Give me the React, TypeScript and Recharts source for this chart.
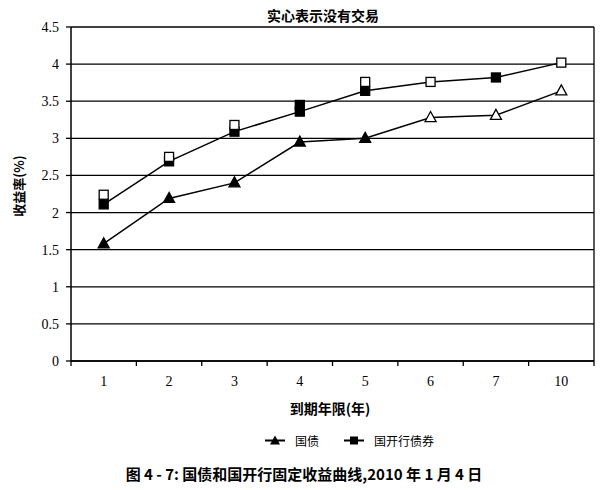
import React from 'react';
import { LineChart, Line, XAxis, YAxis, CartesianGrid } from 'recharts';

const terms = ['1', '2', '3', '4', '5', '6', '7', '10'];
const govYield = [1.58, 2.19, 2.4, 2.95, 3.0, 3.28, 3.31, 3.64];
const govNoTrade = [true, true, true, true, true, false, false, false];
const cdbYield = [2.11, 2.69, 3.09, 3.36, 3.64, 3.76, 3.82, 4.02];
const cdbNoTrade = [true, true, true, true, true, false, true, false];
const cdbAltYield: (number | null)[] = [2.24, 2.75, 3.18, 3.45, 3.76, null, null, null];
const cdbAltNoTrade = [false, false, false, true, false, false, false, false];
const yTicks = [0, 0.5, 1, 1.5, 2, 2.5, 3, 3.5, 4, 4.5];

const data = terms.map((t, i) => ({
  term: t,
  gov: govYield[i],
  cdb: cdbYield[i],
  cdbAlt: cdbAltYield[i],
}));

const W = 607;
const H = 490;
const PLOT_LEFT = 71;
const PLOT_RIGHT = 594;
const PLOT_TOP = 27;
const PLOT_BOTTOM = 361;
const Y_AXIS_W = 40;
const X_AXIS_H = 30;
const BAND = (PLOT_RIGHT - PLOT_LEFT) / terms.length;

const SERIF = '"Liberation Serif", serif';
const CJK = '"Noto Sans CJK SC", sans-serif';

const makeDot = (flags: boolean[], shape: 'tri' | 'sq') => (props: any) => {
  const { cx, cy, index } = props;
  if (cx == null || cy == null || Number.isNaN(cy)) return <g key={`e-${shape}-${index}`} />;
  const filled = flags[index];
  const fill = filled ? '#000' : '#fff';
  if (shape === 'tri') {
    const pts = `${cx},${cy - 6} ${cx - 5.5},${cy + 4} ${cx + 5.5},${cy + 4}`;
    return <polygon key={`t-${index}`} points={pts} fill={fill} stroke="#000" strokeWidth={1.3} />;
  }
  return (
    <rect key={`s-${index}-${cy}`} x={cx - 4.5} y={cy - 4.5} width={9} height={9} fill={fill} stroke="#000" strokeWidth={1.3} />
  );
};

const XTick = (props: any) => {
  const { x, y, payload, index } = props;
  return (
    <g>
      <line x1={x - BAND / 2} y1={y} x2={x - BAND / 2} y2={y + 5} stroke="#000" strokeWidth={1.3} />
      {index === terms.length - 1 && (
        <line x1={x + BAND / 2} y1={y} x2={x + BAND / 2} y2={y + 5} stroke="#000" strokeWidth={1.3} />
      )}
      <text x={x} y={y + 25} textAnchor="middle" style={{ fontFamily: SERIF }} fontSize={14} fill="#000">
        {payload.value}
      </text>
    </g>
  );
};

const YTick = (props: any) => {
  const { x, y, payload } = props;
  return (
    <text x={x} y={y} dy={5} textAnchor="end" style={{ fontFamily: SERIF }} fontSize={14} fill="#000">
      {payload.value}
    </text>
  );
};

const LegendIcon = ({ shape }: { shape: 'tri' | 'sq' }) => (
  <svg width={20} height={12} style={{ display: 'inline-block', verticalAlign: 'middle' }}>
    <line x1={0} y1={6} x2={20} y2={6} stroke="#000" strokeWidth={2} />
    {shape === 'tri' ? (
      <polygon points="10,1 5,10 15,10" fill="#000" />
    ) : (
      <rect x={6} y={2} width={8} height={8} fill="#000" />
    )}
  </svg>
);

export default function App() {
  return (
    <div style={{ position: 'absolute', left: 0, top: 0, width: W, height: H, background: '#fff' }}>
      <LineChart
        width={W}
        height={H}
        data={data}
        margin={{
          top: PLOT_TOP,
          right: W - PLOT_RIGHT - 1,
          left: PLOT_LEFT - Y_AXIS_W,
          bottom: H - PLOT_BOTTOM - X_AXIS_H,
        }}
      >
        <CartesianGrid vertical={false} stroke="#000" strokeWidth={1.3} />
        <XAxis
          dataKey="term"
          type="category"
          scale="band"
          height={X_AXIS_H}
          axisLine={{ stroke: '#000', strokeWidth: 1.3 }}
          tickLine={false}
          tickSize={0}
          tickMargin={0}
          interval={0}
          tick={<XTick />}
        />
        <YAxis
          width={Y_AXIS_W}
          domain={[0, 4.5]}
          ticks={yTicks}
          interval={0}
          axisLine={{ stroke: '#000', strokeWidth: 1.5 }}
          tickLine={{ stroke: '#000', strokeWidth: 1.3 }}
          tickSize={5}
          tickMargin={7}
          tick={<YTick />}
        />
        <YAxis
          yAxisId="r"
          orientation="right"
          width={1}
          domain={[0, 4.5]}
          ticks={yTicks}
          tick={false}
          tickLine={false}
          axisLine={{ stroke: '#000', strokeWidth: 1.3 }}
        />
        <Line
          dataKey="gov"
          type="linear"
          stroke="#000"
          strokeWidth={1.5}
          dot={makeDot(govNoTrade, 'tri')}
          activeDot={false}
          isAnimationActive={false}
        />
        <Line
          dataKey="cdb"
          type="linear"
          stroke="#000"
          strokeWidth={1.5}
          dot={makeDot(cdbNoTrade, 'sq')}
          activeDot={false}
          isAnimationActive={false}
        />
        <Line
          dataKey="cdbAlt"
          type="linear"
          stroke="none"
          dot={makeDot(cdbAltNoTrade, 'sq')}
          activeDot={false}
          isAnimationActive={false}
        />
      </LineChart>

      <div
        style={{
          position: 'absolute', left: 323, top: 15, transform: 'translate(-50%, -50%)',
          whiteSpace: 'nowrap',
          fontFamily: CJK, fontWeight: 'bold', fontSize: 14, color: '#000',
        }}
      >
        实心表示没有交易
      </div>

      <div
        style={{
          position: 'absolute', left: 18, top: 186, transform: 'translate(-50%, -50%) rotate(-90deg)',
          whiteSpace: 'nowrap', fontFamily: CJK, fontSize: 13, fontWeight: 'bold', color: '#000',
        }}
      >
        收益率(%)
      </div>

      <div
        style={{
          position: 'absolute', left: 330, top: 408, transform: 'translate(-50%, -50%)',
          whiteSpace: 'nowrap', fontFamily: CJK, fontSize: 14, fontWeight: 'bold', color: '#000',
        }}
      >
        到期年限(年)
      </div>

      <div
        style={{
          position: 'absolute', left: 265, top: 440, transform: 'translateY(-50%)',
          whiteSpace: 'nowrap', fontFamily: CJK, fontSize: 12, color: '#000', display: 'flex', alignItems: 'center',
        }}
      >
        <LegendIcon shape="tri" />
        <span style={{ marginLeft: 10, marginRight: 25 }}>国债</span>
        <LegendIcon shape="sq" />
        <span style={{ marginLeft: 10 }}>国开行债券</span>
      </div>

      <div
        style={{
          position: 'absolute', left: 304, top: 473, transform: 'translate(-50%, -50%)',
          whiteSpace: 'nowrap', fontFamily: CJK, fontSize: 15, fontWeight: 'bold', color: '#000',
        }}
      >
        图 4 - 7: 国债和国开行固定收益曲线,2010 年 1 月 4 日
      </div>
    </div>
  );
}
